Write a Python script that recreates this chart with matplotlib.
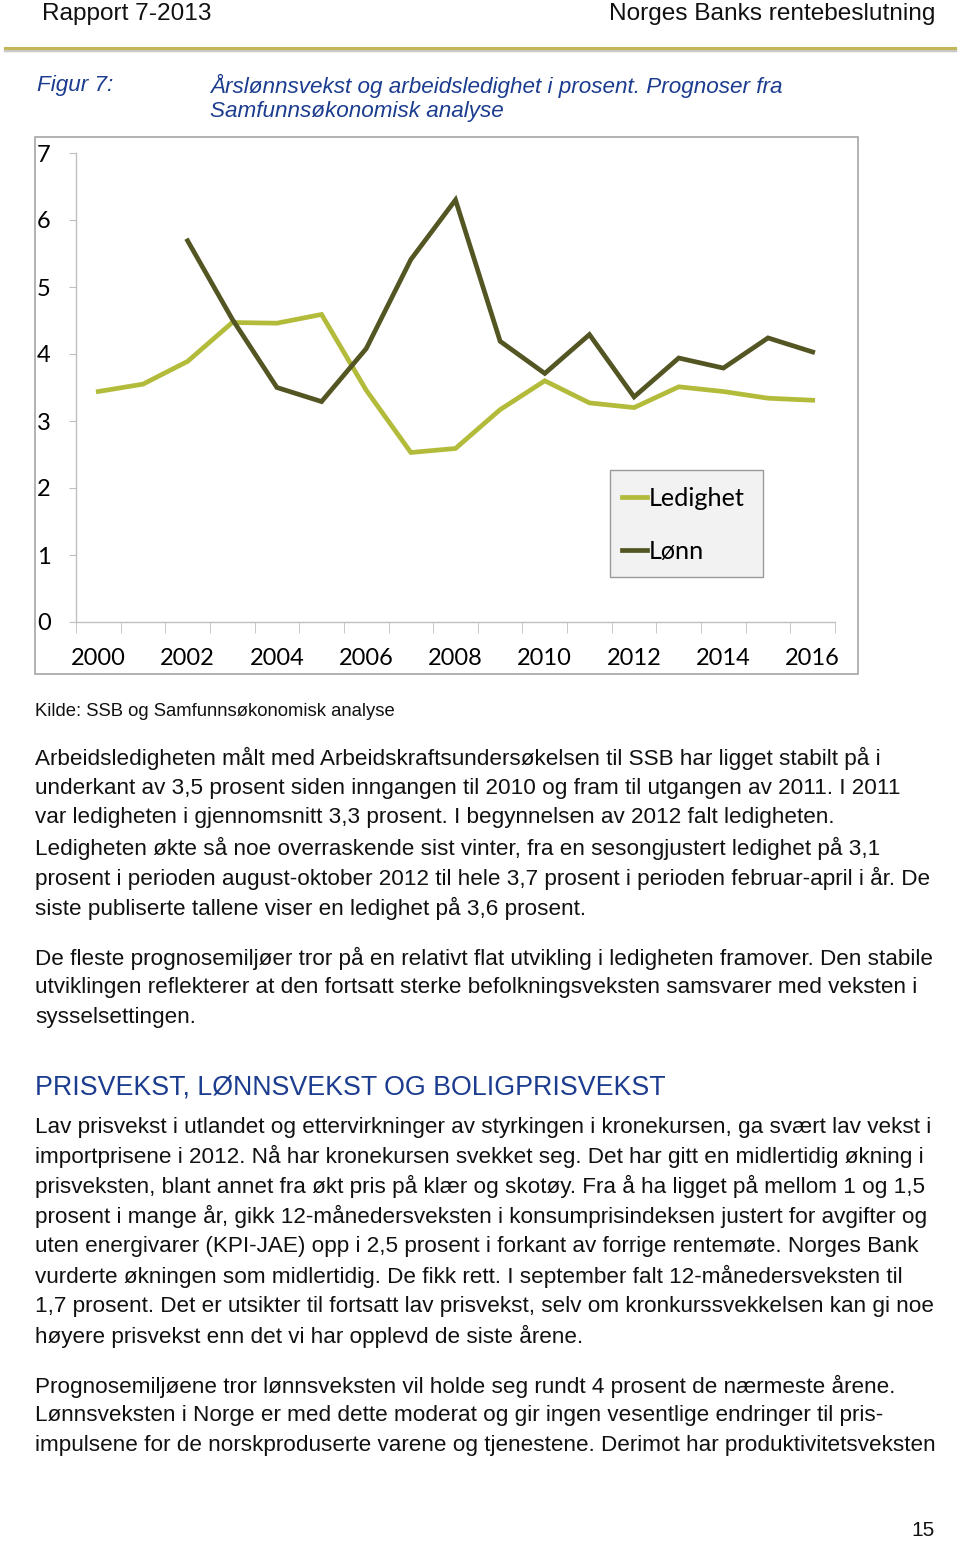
import numpy as np
import matplotlib.pyplot as plt
from matplotlib.lines import Line2D
from matplotlib.patches import Rectangle

# chart data
years = list(range(2000, 2017))
ledighet = [3.44, 3.55, 3.89, 4.47, 4.46, 4.59, 3.46, 2.53, 2.59, 3.17, 3.60, 3.27, 3.20, 3.51, 3.44, 3.34, 3.31]
lonn = [np.nan, np.nan, 5.69, 4.52, 3.50, 3.29, 4.08, 5.41, 6.30, 4.19, 3.71, 4.29, 3.36, 3.94, 3.79, 4.24, 4.03]
yticks = [0, 1, 2, 3, 4, 5, 6, 7]
xlabel_years = [2000, 2002, 2004, 2006, 2008, 2010, 2012, 2014, 2016]

para1 = ["Arbeidsledigheten målt med Arbeidskraftsundersøkelsen til SSB har ligget stabilt på i",
         "underkant av 3,5 prosent siden inngangen til 2010 og fram til utgangen av 2011. I 2011",
         "var ledigheten i gjennomsnitt 3,3 prosent. I begynnelsen av 2012 falt ledigheten.",
         "Ledigheten økte så noe overraskende sist vinter, fra en sesongjustert ledighet på 3,1",
         "prosent i perioden august-oktober 2012 til hele 3,7 prosent i perioden februar-april i år. De",
         "siste publiserte tallene viser en ledighet på 3,6 prosent."]
para2 = ["De fleste prognosemiljøer tror på en relativt flat utvikling i ledigheten framover. Den stabile",
         "utviklingen reflekterer at den fortsatt sterke befolkningsveksten samsvarer med veksten i",
         "sysselsettingen."]
para3 = ["Lav prisvekst i utlandet og ettervirkninger av styrkingen i kronekursen, ga svært lav vekst i",
         "importprisene i 2012. Nå har kronekursen svekket seg. Det har gitt en midlertidig økning i",
         "prisveksten, blant annet fra økt pris på klær og skotøy. Fra å ha ligget på mellom 1 og 1,5",
         "prosent i mange år, gikk 12-månedersveksten i konsumprisindeksen justert for avgifter og",
         "uten energivarer (KPI-JAE) opp i 2,5 prosent i forkant av forrige rentemøte. Norges Bank",
         "vurderte økningen som midlertidig. De fikk rett. I september falt 12-månedersveksten til",
         "1,7 prosent. Det er utsikter til fortsatt lav prisvekst, selv om kronkurssvekkelsen kan gi noe",
         "høyere prisvekst enn det vi har opplevd de siste årene."]
para4 = ["Prognosemiljøene tror lønnsveksten vil holde seg rundt 4 prosent de nærmeste årene.",
         "Lønnsveksten i Norge er med dette moderat og gir ingen vesentlige endringer til pris-",
         "impulsene for de norskproduserte varene og tjenestene. Derimot har produktivitetsveksten"]

W, H = 960, 1541
fig = plt.figure(figsize=(W / 100, H / 100), dpi=100)
fig.patch.set_facecolor("white")

BODY = ["Liberation Sans", "DejaVu Sans"]
CHART = ["Lato", "DejaVu Sans"]
blue = "#1b3c8f"


def fx(x):
    return x / W


def fy(y):
    return 1 - y / H


def line_text(x, y, s, **kw):
    fig.text(fx(x), fy(y), s, va="center", ha=kw.pop("ha", "left"), **kw)


# page header
line_text(42, 14, "Rapport 7-2013", fontsize=17.6, family=BODY, color="#111111")
line_text(935, 14, "Norges Banks rentebeslutning", fontsize=17.6, family=BODY, color="#111111", ha="right")
fig.add_artist(Line2D([fx(5), fx(955)], [fy(50), fy(50)], color="#c9c9c9", lw=2.5))
fig.add_artist(Line2D([fx(5), fx(955)], [fy(48), fy(48)], color="#c2b659", lw=2.2))

# figure caption
cap = dict(fontsize=16.2, family=BODY, style="italic", color=blue)
line_text(37, 86, "Figur 7:", **cap)
line_text(210, 86, "Årslønnsvekst og arbeidsledighet i prosent. Prognoser fra", **cap)
line_text(210, 112, "Samfunnsøkonomisk analyse", **cap)

# chart frame
fig.add_artist(Rectangle((fx(35), fy(674)), fx(858) - fx(35), fy(137) - fy(674),
                         transform=fig.transFigure, fill=False, edgecolor="#a6a6a6", lw=1.2))

ax = fig.add_axes([fx(76), fy(622), fx(835) - fx(76), fy(153) - fy(622)])
ax.set_facecolor("none")
x = np.arange(len(years))
c_led = "#b3bb3a"
c_lonn = "#535623"
ax.plot(x, ledighet, color=c_led, lw=3.4, label="Ledighet", solid_joinstyle="miter")
ax.plot(x, lonn, color=c_lonn, lw=3.4, label="Lønn", solid_joinstyle="miter")
ax.set_xlim(-0.5, len(years) - 0.5)
ax.set_ylim(0, 7)
ax.set_yticks(yticks)
ax.set_yticklabels([str(v) for v in yticks], family=CHART, fontsize=17, ha="left")
ax.tick_params(axis="y", length=5, color="#bfbfbf", pad=23)
ax.set_xticks([years.index(y) for y in xlabel_years])
ax.set_xticklabels([str(y) for y in xlabel_years], family=CHART, fontsize=17)
ax.tick_params(axis="x", length=0, pad=19)
ax.set_xticks(np.arange(-0.5, len(years)), minor=True)
ax.tick_params(axis="x", which="minor", length=8, color="#bfbfbf", direction="out")
for s in ["top", "right"]:
    ax.spines[s].set_visible(False)
for s in ["left", "bottom"]:
    ax.spines[s].set_color("#bfbfbf")
    ax.spines[s].set_linewidth(1.0)

# legend box
ax.add_patch(Rectangle((fx(610), fy(577)), fx(763) - fx(610), fy(470) - fy(577),
                       transform=fig.transFigure, facecolor="#f2f2f2", edgecolor="#999999",
                       lw=1.0, clip_on=False, zorder=3))
leg = ax.legend(loc="upper left", bbox_to_anchor=(fx(622), fy(487)), bbox_transform=fig.transFigure,
                prop={"family": CHART, "size": 18.2}, handlelength=1.0, handletextpad=0.05,
                labelspacing=1.2, borderpad=0, borderaxespad=0, frameon=False)
leg.set_zorder(4)

# source and body text
line_text(35, 711, "Kilde: SSB og Samfunnsøkonomisk analyse", fontsize=13.3, family=BODY, color="#111111")

body = dict(fontsize=16.2, family=BODY, color="#111111")
for i, s in enumerate(para1):
    line_text(35, 758 + 30 * i, s, **body)
for i, s in enumerate(para2):
    line_text(35, 958 + 30 * i, s, **body)
line_text(35, 1087, "PRISVEKST, LØNNSVEKST OG BOLIGPRISVEKST", fontsize=19.3, family=BODY, color=blue)
for i, s in enumerate(para3):
    line_text(35, 1127 + 29.9 * i, s, **body)
for i, s in enumerate(para4):
    line_text(35, 1386 + 29.7 * i, s, **body)
line_text(935, 1530, "15", fontsize=15, family=BODY, color="#111111", ha="right")

fig.savefig("out.png", dpi=100)
